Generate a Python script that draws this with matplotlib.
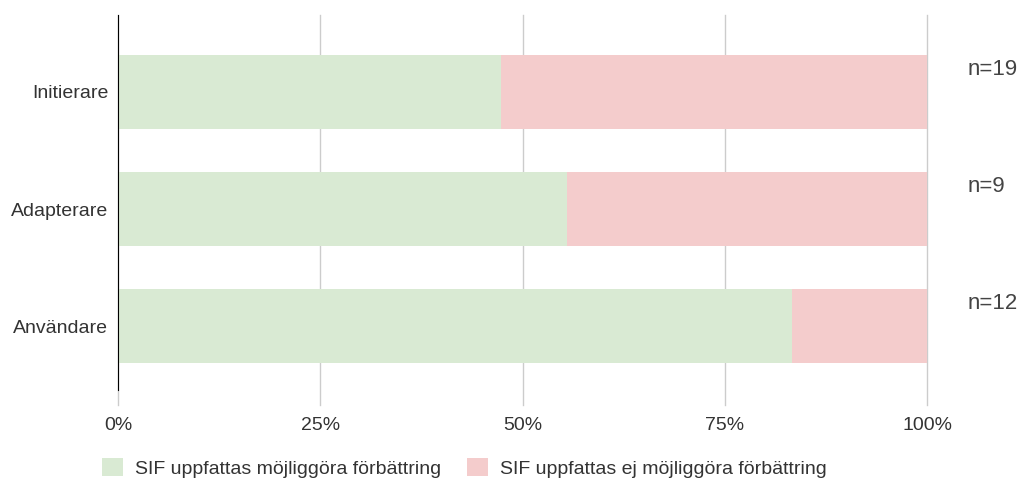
import matplotlib.pyplot as plt
from matplotlib.patches import Patch

plt.rcParams['font.family'] = ['Liberation Sans', 'DejaVu Sans']

categories = ['Initierare', 'Adapterare', 'Användare']
n_values = [19, 9, 12]
yes_counts = [9, 5, 10]
no_counts = [10, 4, 2]
labels = ['SIF uppfattas möjliggöra förbättring', 'SIF uppfattas ej möjliggöra förbättring']
colors = ['#d9ead3', '#f4cccc']

yes_share = [y / n for y, n in zip(yes_counts, n_values)]
no_share = [x / n for x, n in zip(no_counts, n_values)]

fig = plt.figure(figsize=(10.23, 4.79), dpi=100)
ax = fig.add_axes([118 / 1023, 1 - 405 / 479, 809 / 1023, 390 / 479])

pos = list(range(len(categories)))
ax.barh(pos, yes_share, height=0.64, color=colors[0], zorder=2)
ax.barh(pos, no_share, left=yes_share, height=0.64, color=colors[1], zorder=2)

ax.set_ylim(2.675, -0.658)
ax.set_xlim(0, 1)
ax.set_yticks(pos)
ax.set_yticklabels(categories, fontsize=14, color='#333333')
ax.set_xticks([0, 0.25, 0.5, 0.75, 1.0])
ax.set_xticklabels(['0%', '25%', '50%', '75%', '100%'], fontsize=14, color='#333333')
ax.tick_params(length=0)
ax.tick_params(axis='x', pad=9)
ax.tick_params(axis='y', pad=7)
ax.grid(axis='x', color='#cccccc', linewidth=1, zorder=0)
for line in ax.get_xgridlines():
    line.set_clip_on(False)
for s in ['top', 'right', 'bottom']:
    ax.spines[s].set_visible(False)
ax.spines['left'].set_color('#000000')
ax.spines['left'].set_zorder(3)
ax.spines['left'].set_bounds(2.55, -0.658)

for p, n in zip(pos, n_values):
    ax.text(1.0507, p - 0.19, f'n={n}', fontsize=16, color='#444444', va='center', ha='left')

handles = [Patch(facecolor=c, edgecolor='none') for c in colors]
fig.legend(handles, labels, loc='center left', bbox_to_anchor=(102 / 1023, 1 - 468 / 479), ncol=2,
           frameon=False, fontsize=14, handlelength=1.08, handleheight=1.05,
           handletextpad=0.62, columnspacing=1.34, borderpad=0, borderaxespad=0,
           labelcolor='#333333')

fig.savefig('out.png', dpi=100)
